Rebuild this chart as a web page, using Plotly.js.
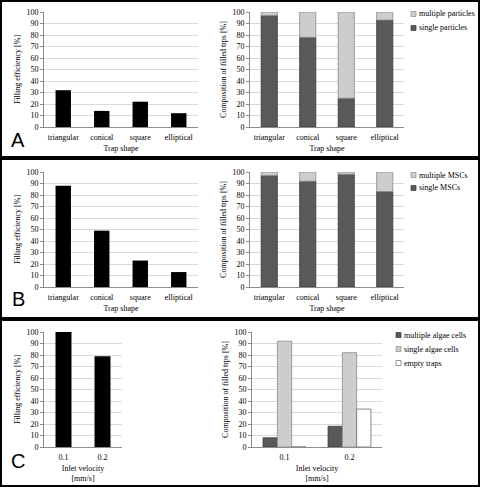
<!DOCTYPE html>
<html><head><meta charset="utf-8">
<script src="https://cdn.plot.ly/plotly-3.0.1.min.js"></script>
<style>html,body{margin:0;padding:0;background:#fff}#p{width:480px;height:487px}</style>
</head><body><div id="p"></div>
<script>
// ---- data ----
const shapes = ["triangular", "conical", "square", "elliptical"];
const fillA = [32, 14, 22, 12];
const singleParticles = [97, 78, 25, 93];
const multipleParticles = [3, 22, 75, 7];
const fillB = [88, 49, 23, 13];
const singleMSCs = [97, 92, 98, 83];
const multipleMSCs = [3, 8, 2, 17];
const velocities = ["0.1", "0.2"];
const fillC = [100, 79];
const multipleAlgae = [8, 18];
const singleAlgae = [92, 82];
const emptyTraps = [0, 33];

const W = 480, H = 487;
const px = x => x / W, py = y => 1 - y / H;
const FONT = "Liberation Serif";
const DARK = "#595959", LIGHT = "#cdcdcd", WHITE = "#ffffff";
const DARK_L = "#3a3a3a", LIGHT_L = "#8a8a8a", WHITE_L = "#6a6a6a";
const tf = {family: FONT, size: 8, color: "#000"};

function yax(dom, anchor, title) {
  return {domain: [py(dom[1]), py(dom[0])], anchor: anchor, range: [0, 100], dtick: 10, showgrid: true,
    gridcolor: "#d9d9d9", gridwidth: 1, zeroline: false, showline: true, linecolor: "#8c8c8c",
    ticks: "outside", ticklen: 3, tickcolor: "#8c8c8c", tickfont: tf,
    title: {text: title, font: tf, standoff: 4}, fixedrange: true};
}
function xax(dom, anchor, title) {
  return {domain: [px(dom[0]), px(dom[1])], anchor: anchor, type: "category", showline: true, linecolor: "#8c8c8c",
    ticks: "", tickfont: tf, ticklabelstandoff: 2, showgrid: false, zeroline: false,
    title: {text: title, font: tf, standoff: 4}, fixedrange: true};
}

const data = [];
function bar(x, y, xa, ya, color, lineColor, width, offset, base, name) {
  const t = {type: "bar", x: x, y: y, xaxis: xa, yaxis: ya, name: name || "", showlegend: false,
    marker: {color: color, line: {color: lineColor, width: lineColor ? 0.8 : 0}}, width: width, offset: offset};
  if (base) t.base = base;
  data.push(t);
}
// A
bar(shapes, fillA, "x", "y", "#000", null, 0.4, -0.2);
bar(shapes, singleParticles, "x2", "y2", DARK, DARK_L, 0.42, -0.21, null, "single particles");
bar(shapes, multipleParticles, "x2", "y2", LIGHT, LIGHT_L, 0.42, -0.21, singleParticles.slice(), "multiple particles");
// B
bar(shapes, fillB, "x3", "y3", "#000", null, 0.4, -0.2);
bar(shapes, singleMSCs, "x4", "y4", DARK, DARK_L, 0.42, -0.21, null, "single MSCs");
bar(shapes, multipleMSCs, "x4", "y4", LIGHT, LIGHT_L, 0.42, -0.21, singleMSCs.slice(), "multiple MSCs");
// C
bar(velocities, fillC, "x5", "y5", "#000", null, 0.41, -0.205);
bar(velocities, multipleAlgae, "x6", "y6", DARK, DARK_L, 0.22, -0.33, null, "multiple algae cells");
bar(velocities, singleAlgae, "x6", "y6", LIGHT, LIGHT_L, 0.22, -0.11, null, "single algae cells");
bar(velocities, emptyTraps, "x6", "y6", WHITE, WHITE_L, 0.22, 0.11, null, "empty traps");

// legends (drawn as text + small swatches)
const legendA = {names: ["multiple particles", "single particles"], colors: [LIGHT, DARK], lines: [LIGHT_L, DARK_L], x: 411, ys: [14, 28]};
const legendB = {names: ["multiple MSCs", "single MSCs"], colors: [LIGHT, DARK], lines: [LIGHT_L, DARK_L], x: 411, ys: [175, 188]};
const legendC = {names: ["multiple algae cells", "single algae cells", "empty traps"], colors: [DARK, LIGHT, WHITE], lines: [DARK_L, LIGHT_L, WHITE_L], x: 396, ys: [335, 349, 363]};

const letter = (t, y) => ({text: t, x: px(18), y: py(y), xref: "paper", yref: "paper", xanchor: "center", yanchor: "middle",
  showarrow: false, font: {family: "Liberation Sans", size: 20, color: "#000"}});
const annotations = [letter("A", 140), letter("B", 299), letter("C", 461)];
const panelLine = {color: "#000", width: 2};
const layoutShapes = [
  {type: "rect", xref: "paper", yref: "paper", x0: px(1), x1: px(479), y0: py(157), y1: py(1), line: panelLine},
  {type: "rect", xref: "paper", yref: "paper", x0: px(1), x1: px(479), y0: py(318), y1: py(159), line: panelLine},
  {type: "rect", xref: "paper", yref: "paper", x0: px(1), x1: px(479), y0: py(486), y1: py(320), line: panelLine}
];
[legendA, legendB, legendC].forEach(L => {
  L.names.forEach((n, i) => {
    const y = L.ys[i];
    layoutShapes.push({type: "rect", xref: "paper", yref: "paper", x0: px(L.x), x1: px(L.x + 5), y0: py(y + 2.5), y1: py(y - 2.5),
      fillcolor: L.colors[i], line: {color: L.lines[i], width: 0.7}});
    annotations.push({text: n, x: px(L.x + 6), y: py(y), xref: "paper", yref: "paper", xanchor: "left", yanchor: "middle",
      showarrow: false, font: tf});
  });
});

const layout = {
  width: W, height: H, margin: {l: 0, r: 0, t: 0, b: 0, autoexpand: false}, paper_bgcolor: "#fff", plot_bgcolor: "#fff",
  barmode: "group", showlegend: false, font: {family: FONT, size: 8, color: "#000"},
  xaxis: xax([44, 198], "y", "Trap shape"), yaxis: yax([12, 127], "x", "Filling efficiency [%]"),
  xaxis2: xax([250, 404], "y2", "Trap shape"), yaxis2: yax([12, 127], "x2", "Composition of filled trps [%]"),
  xaxis3: xax([44, 198], "y3", "Trap shape"), yaxis3: yax([172, 287], "x3", "Filling efficiency [%]"),
  xaxis4: xax([250, 404], "y4", "Trap shape"), yaxis4: yax([172, 287], "x4", "Composition of filled trps [%]"),
  xaxis5: xax([44, 122], "y5", "Inlet velocity<br>[mm/s]"), yaxis5: yax([332, 447], "x5", "Filling efficiency [%]"),
  xaxis6: xax([252, 382], "y6", "Inlet velocity<br>[mm/s]"), yaxis6: yax([332, 447], "x6", "Composition of filled trps [%]"),
  annotations: annotations, shapes: layoutShapes
};
Plotly.newPlot("p", data, layout, {staticPlot: true, displayModeBar: false});
</script></body></html>
